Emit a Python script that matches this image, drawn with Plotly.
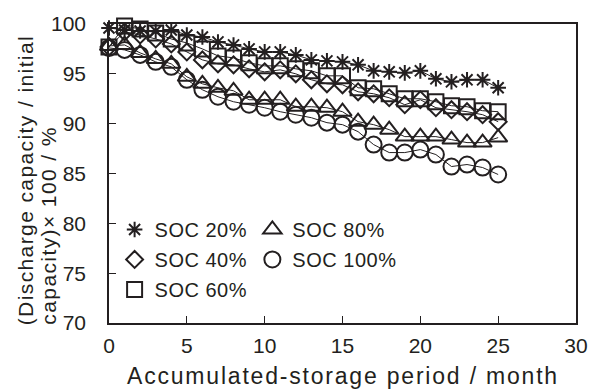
import plotly.graph_objects as go

# Accumulated storage period (months) and capacity retention per storage SOC
months = list(range(26))

soc20 = [99.6, 99.4, 99.3, 99.3, 99.4, 98.9, 98.7, 98.2, 97.9, 97.5, 97.2, 97.2, 96.9,
         96.4, 96.3, 96.2, 95.9, 95.3, 95.2, 95.1, 95.3, 94.5, 94.2, 94.4, 94.4, 93.6]
soc40 = [97.7, 99.2, 98.9, 98.5, 98.0, 97.2, 96.4, 96.0, 95.9, 95.5, 95.2, 95.4, 95.0,
         94.4, 94.0, 93.9, 93.2, 93.0, 92.6, 91.9, 92.4, 91.6, 91.4, 91.2, 90.9, 90.2]
soc60 = [97.7, 99.8, 99.5, 99.1, 98.5, 98.1, 97.5, 96.8, 96.6, 96.1, 95.8, 95.8, 95.5,
         95.3, 94.8, 94.8, 93.6, 93.5, 93.0, 92.5, 92.5, 92.2, 91.8, 91.7, 91.3, 91.2]
soc80 = [97.8, 97.9, 97.1, 96.5, 96.0, 94.7, 94.0, 93.6, 93.3, 92.4, 92.4, 92.4, 91.7,
         91.7, 91.6, 91.2, 90.2, 89.9, 89.4, 88.7, 88.7, 88.7, 88.4, 88.1, 88.1, 88.6]
soc100 = [97.6, 97.4, 96.9, 96.2, 95.7, 94.4, 93.4, 92.7, 92.2, 91.9, 91.6, 91.2, 90.9,
          90.6, 90.1, 89.9, 89.2, 87.9, 87.1, 87.1, 87.4, 86.9, 85.7, 85.9, 85.6, 84.9]

series_names = ["SOC 20%", "SOC 40%", "SOC 60%", "SOC 80%", "SOC 100%"]
series_values = [soc20, soc40, soc60, soc80, soc100]

x_ticks = [0, 5, 10, 15, 20, 25, 30]
y_ticks = [70, 75, 80, 85, 90, 95, 100]

INK = "#231f20"
FONT = "Liberation Sans, Arial, sans-serif"

symbols = ["asterisk-open", "diamond-open", "square-open", "triangle-up-open", "circle-open"]
sizes = [13, 13, 15, 16, 16]
legends = ["legend", "legend", "legend", "legend2", "legend2"]


def spaced(text, px):
    return f'<span style="letter-spacing:{px}px">{text}</span>'


fig = go.Figure()

for name, vals, sym, sz, lg in zip(series_names, series_values, symbols, sizes, legends):
    # thin connecting line
    fig.add_trace(go.Scatter(
        x=months, y=vals, mode="lines",
        line=dict(color=INK, width=1),
        showlegend=False, legendgroup=name, hoverinfo="skip",
        cliponaxis=False,
    ))
    # open markers, also used for the legend key
    fig.add_trace(go.Scatter(
        x=months, y=vals, mode="markers", name=spaced(name, 0.5),
        marker=dict(symbol=sym, size=sz, color=INK, line=dict(color=INK, width=2)),
        legend=lg, legendgroup=name, cliponaxis=False,
    ))

axis_common = dict(
    showline=True, linecolor=INK, linewidth=1.5, mirror=True,
    ticks="inside", ticklen=7, tickwidth=1.2, tickcolor=INK,
    showgrid=False, zeroline=False,
    tickfont=dict(family=FONT, size=21, color=INK),
)

fig.update_xaxes(range=[0, 30], tickvals=x_ticks, ticklabelstandoff=3, **axis_common)
fig.update_yaxes(range=[70, 100], tickvals=y_ticks, ticklabelstandoff=17, **axis_common)

legend_common = dict(
    orientation="v", bgcolor="rgba(0,0,0,0)", borderwidth=0,
    font=dict(family=FONT, size=20, color=INK),
    traceorder="grouped", tracegroupgap=1,
    xanchor="left", yanchor="top",
)

fig.update_layout(
    width=600, height=389,
    margin=dict(l=109, r=17, t=22, b=66),
    paper_bgcolor="white", plot_bgcolor="white",
    font=dict(family=FONT, color=INK),
    legend=dict(x=0.012, y=0.378, **legend_common),
    legend2=dict(x=0.307, y=0.378, **legend_common),
    annotations=[
        dict(text=spaced("Accumulated-storage period / month", 1.8),
             xref="paper", yref="paper", x=0.5, y=-0.178,
             xanchor="center", yanchor="middle", showarrow=False,
             font=dict(family=FONT, size=23, color=INK)),
        dict(text=spaced("(Discharge capacity / initial", 1.4),
             xref="paper", yref="paper", x=-0.179, y=-0.013, textangle=-90,
             xanchor="center", yanchor="bottom", showarrow=False,
             font=dict(family=FONT, size=21, color=INK)),
        dict(text=spaced("capacity)× 100 / %", 1.4),
             xref="paper", yref="paper", x=-0.13, y=-0.013, textangle=-90,
             xanchor="center", yanchor="bottom", showarrow=False,
             font=dict(family=FONT, size=21, color=INK)),
    ],
)

fig.write_html("out.html")
